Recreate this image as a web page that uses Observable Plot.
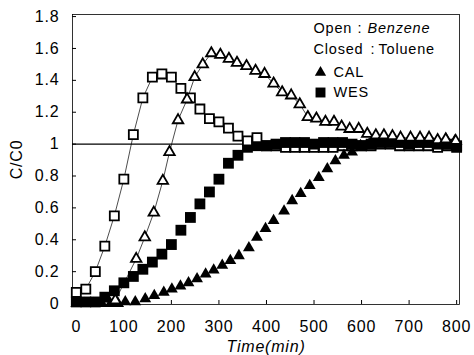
<!DOCTYPE html>
<html><head><meta charset="utf-8">
<script src="https://cdn.jsdelivr.net/npm/d3@7"></script>
<script src="https://cdn.jsdelivr.net/npm/@observablehq/plot@0.6"></script>
<style>
body{margin:0;background:#fff}
svg text{letter-spacing:0.8px}
</style>
</head><body><div id="chart"></div>
<script>
// Open squares: Benzene, WES
const benzWesTime = [0,20,40,60,80,100,120,140,160,180,200,220,240,260,280,300,320,340,360,380,400,420,440,460,480,500,520,540,560,580,600,620,640,660,680,700,720,740,760,780,800];
const benzWesC = [0.07,0.09,0.20,0.36,0.55,0.78,1.06,1.29,1.42,1.44,1.42,1.35,1.29,1.22,1.16,1.14,1.10,1.05,1.02,1.04,0.99,0.99,0.98,0.98,0.98,0.98,0.98,0.98,0.99,0.99,0.99,0.99,1.00,1.00,0.99,0.99,0.99,0.99,0.98,0.99,0.98];
// Open triangles: Benzene, CAL
const benzCalTime = [82,126,144,163,182,196,214,233,249,266,284,303,321,338,358,377,396,415,433,452,470,487,505,524,542,558,575,594,612,630,647,665,682,703,723,742,760,777,798];
const benzCalC = [0.02,0.28,0.415,0.57,0.77,0.95,1.15,1.28,1.42,1.50,1.57,1.56,1.535,1.51,1.49,1.46,1.44,1.38,1.325,1.305,1.25,1.17,1.16,1.14,1.14,1.11,1.095,1.095,1.065,1.055,1.055,1.05,1.04,1.04,1.04,1.04,1.025,1.03,1.02];
// Filled squares: Toluene, WES
const toluWesTime = benzWesTime;
const toluWesC = [0.01,0.01,0.01,0.04,0.08,0.13,0.17,0.215,0.26,0.31,0.37,0.46,0.54,0.625,0.70,0.78,0.88,0.93,0.98,0.99,0.99,1.00,1.01,1.01,1.01,1.00,1.01,1.01,1.01,1.00,0.99,1.00,1.01,1.01,1.01,1.00,1.01,1.01,1.00,1.00,0.99];
// Filled triangles: Toluene, CAL
const toluCalTime = [0,18,36,54,72,88,103,124,145,164,184,201,219,236,254,272,289,307,324,342,363,380,398,415,437,454,472,491,510,528,545,563,580,598,616,634,652,670,688,706,724,742,760,778,796];
const toluCalC = [0,0,0,0,0,0,0.01,0.01,0.03,0.05,0.07,0.09,0.11,0.13,0.155,0.185,0.21,0.24,0.27,0.30,0.35,0.415,0.47,0.52,0.58,0.645,0.69,0.74,0.79,0.845,0.895,0.93,0.95,0.99,1.00,1.01,1.01,1.01,1.01,1.00,1.01,1.01,1.00,1.03,1.02];

const xTicks = [0,100,200,300,400,500,600,700,800];
const yTicks = [0,0.2,0.4,0.6,0.8,1,1.2,1.4,1.6,1.8];
const legendLines = ["CAL","WES"];

const zip = (t, c) => t.map((d, i) => ({t: d, c: c[i]}));
const bw = zip(benzWesTime, benzWesC);
const bc = zip(benzCalTime, benzCalC);
const tw = zip(toluWesTime, toluWesC);
const tc = zip(toluCalTime, toluCalC);

const openSq = {x: "t", y: "c", symbol: "square", r: 5.1, fill: "#fff", stroke: "#000", strokeWidth: 1.8};

const chart = Plot.plot({
  width: 474, height: 355,
  marginLeft: 72, marginRight: 15, marginTop: 14, marginBottom: 51,
  style: {fontFamily: "'Liberation Sans', Arial, sans-serif", fontSize: "16px", color: "#000", background: "#fff"},
  x: {domain: [-8, 806]},
  y: {domain: [-0.006, 1.813]},
  marks: [
    Plot.frame({stroke: "#000", strokeWidth: 0.8}),
    Plot.axisX({ticks: xTicks, tickSize: -4, tickPadding: 20, tickFormat: d => String(d),
      label: "Time(min)", labelAnchor: "center", labelArrow: "none", labelOffset: 47}),
    Plot.axisY({ticks: yTicks, tickSize: -4, tickPadding: 17,
      tickFormat: d => (d === 0 || d === 1) ? String(d) : d.toFixed(1),
      label: "C/C0", labelAnchor: "center", labelArrow: "none", labelOffset: 62}),
    Plot.ruleY([1], {stroke: "#000", strokeWidth: 1.4}),
    Plot.line(bw, {x: "t", y: "c", stroke: "#000", strokeWidth: 0.7}),
    Plot.line(bc, {x: "t", y: "c", stroke: "#000", strokeWidth: 0.7}),
    Plot.dot(bw, {...openSq, filter: d => d.t >= 400}),
    Plot.dot(tw, {x: "t", y: "c", symbol: "square", r: 6.1, fill: "#000", stroke: "none"}),
    Plot.dot(bw, {...openSq, filter: d => d.t < 400}),
    Plot.dot(tc, {x: "t", y: "c", symbol: "triangle", r: 4.4, fill: "#000", stroke: "none"}),
    Plot.dot(bc, {x: "t", y: "c", symbol: "triangle", r: 3.9, fill: "#fff", stroke: "#000", strokeWidth: 1.8}),
    // legend
    Plot.text(["Open"], {frameAnchor: "top-left", dx: 241, dy: 14, text: d => d, textAnchor: "start", lineAnchor: "middle", fontSize: 14.5}),
    Plot.text([":"], {frameAnchor: "top-left", dx: 285, dy: 14, text: d => d, textAnchor: "start", lineAnchor: "middle", fontSize: 14.5}),
    Plot.text(["Benzene"], {frameAnchor: "top-left", dx: 295, dy: 14, text: d => d, textAnchor: "start", lineAnchor: "middle", fontSize: 14.5, fontStyle: "italic"}),
    Plot.text(["Closed"], {frameAnchor: "top-left", dx: 241, dy: 35, text: d => d, textAnchor: "start", lineAnchor: "middle", fontSize: 14.5}),
    Plot.text([":"], {frameAnchor: "top-left", dx: 298, dy: 35, text: d => d, textAnchor: "start", lineAnchor: "middle", fontSize: 14.5}),
    Plot.text(["Toluene"], {frameAnchor: "top-left", dx: 306, dy: 35, text: d => d, textAnchor: "start", lineAnchor: "middle", fontSize: 14.5}),
    Plot.dot([0], {frameAnchor: "top-left", dx: 248, dy: 58, symbol: "triangle", r: 4.2, fill: "#000"}),
    Plot.dot([0], {frameAnchor: "top-left", dx: 248, dy: 78, symbol: "square", r: 5.6, fill: "#000"}),
    Plot.text([legendLines[0]], {frameAnchor: "top-left", dx: 261, dy: 58, text: d => d, textAnchor: "start", lineAnchor: "middle", fontSize: 14.5}),
    Plot.text([legendLines[1]], {frameAnchor: "top-left", dx: 261, dy: 78, text: d => d, textAnchor: "start", lineAnchor: "middle", fontSize: 14.5})
  ]
});
document.getElementById("chart").appendChild(chart);
d3.select(chart).selectAll('[aria-label="x-axis label"] text').style("font-style", "italic");
</script>
</body></html>
